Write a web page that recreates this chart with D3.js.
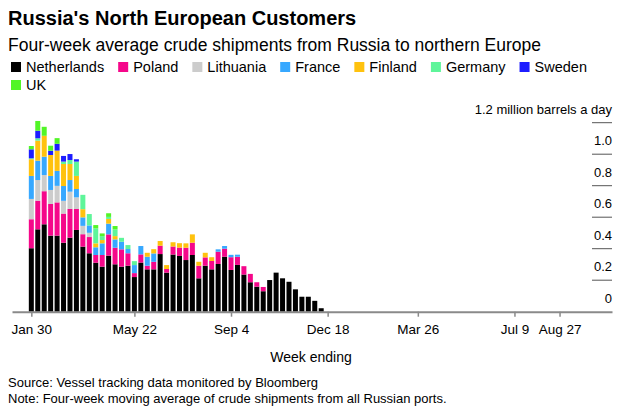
<!DOCTYPE html>
<html><head><meta charset="utf-8">
<script src="https://cdn.jsdelivr.net/npm/d3@7"></script>
<style>
body{margin:0;background:#fff;}
svg text{font-family:"Liberation Sans",Arial,Helvetica,sans-serif;fill:#000;}
</style></head><body>
<svg id="c" width="631" height="411"></svg>
<script>
const weeks = ["2022-01-30","2022-02-06","2022-02-13","2022-02-20","2022-02-27","2022-03-06","2022-03-13","2022-03-20","2022-03-27","2022-04-03","2022-04-10","2022-04-17","2022-04-24","2022-05-01","2022-05-08","2022-05-15","2022-05-22","2022-05-29","2022-06-05","2022-06-12","2022-06-19","2022-06-26","2022-07-03","2022-07-10","2022-07-17","2022-07-24","2022-07-31","2022-08-07","2022-08-14","2022-08-21","2022-08-28","2022-09-04","2022-09-11","2022-09-18","2022-09-25","2022-10-02","2022-10-09","2022-10-16","2022-10-23","2022-10-30","2022-11-06","2022-11-13","2022-11-20","2022-11-27","2022-12-04","2022-12-11"];

const seriesNames = ["Netherlands","Poland","Lithuania","France","Finland","Germany","Sweden","UK"];
const seriesColors = ["#000000","#f5078a","#cccccc","#37a8ff","#ffc20e","#5ef59a","#1d1dff","#52f527"];

const netherlands = [0.403,0.523,0.555,0.483,0.483,0.438,0.470,0.519,0.413,0.371,0.311,0.286,0.356,0.301,0.286,0.292,0.220,0.312,0.269,0.269,0.366,0.248,0.363,0.354,0.328,0.360,0.212,0.292,0.269,0.303,0.349,0.265,0.297,0.236,0.187,0.159,0.130,0.201,0.248,0.212,0.190,0.142,0.095,0.095,0.069,0.022];
const poland = [0.184,0.182,0.210,0.201,0.211,0.185,0.183,0.133,0.079,0.103,0.049,0.074,0.135,0.105,0.110,0.079,0.025,0.052,0.023,0.048,0.053,0.023,0.051,0.053,0.078,0.078,0.080,0.053,0.053,0.078,0.051,0.081,0.052,0.053,0.053,0.028,0.027,0,0,0,0,0,0,0,0,0];
const lithuania = [0.129,0.131,0.103,0.089,0.105,0.081,0.109,0.074,0.053,0.027,0,0,0,0,0,0,0,0,0,0,0,0,0,0,0,0,0,0,0,0,0,0,0,0,0,0,0,0,0,0,0,0,0,0,0,0];
const france = [0.146,0.123,0.116,0.089,0.095,0.094,0.074,0.053,0.054,0.047,0.049,0.074,0.068,0.053,0.048,0.027,0.051,0.053,0.057,0.053,0,0,0,0,0,0,0,0,0,0.015,0.017,0.015,0.013,0,0,0,0,0,0,0,0,0,0,0,0,0];
const finland = [0.106,0.127,0.133,0.133,0.129,0.140,0.102,0.083,0.052,0,0.025,0.021,0.030,0.021,0,0,0,0,0.025,0.027,0.030,0.025,0.027,0.028,0.028,0.053,0.025,0.029,0.024,0,0,0,0,0,0,0,0,0,0,0,0,0,0,0,0,0];
const germany = [0.006,0.015,0,0,0,0.015,0.025,0.091,0.091,0.072,0.095,0.025,0.013,0.043,0.025,0.025,0.025,0,0,0,0,0,0,0,0,0,0,0,0,0,0,0,0,0,0,0,0,0,0,0,0,0,0,0,0,0];
const sweden = [0.057,0.048,0,0.027,0.043,0.036,0.038,0.015,0,0,0,0,0,0,0,0,0,0,0,0,0,0,0,0,0,0,0,0,0,0,0,0,0,0,0,0,0,0,0,0,0,0,0,0,0,0];
const uk = [0.021,0.062,0.057,0.032,0.036,0,0,0,0,0,0.021,0.017,0.023,0.021,0,0,0,0,0,0,0,0,0,0,0,0,0,0,0,0,0,0,0,0,0,0,0,0,0,0,0,0,0,0,0,0];

const xTickDates = ["2022-01-30","2022-05-22","2022-09-04","2022-12-18","2023-03-26","2023-07-09","2023-08-27"];
const yTicks = [0,0.2,0.4,0.6,0.8,1.0,1.2];
const yTickLabels = ["0","0.2","0.4","0.6","0.8","1.0","1.2 million barrels a day"];

const seriesValues = [netherlands,poland,lithuania,france,finland,germany,sweden,uk];
const parse = d3.utcParse("%Y-%m-%d");
const table = weeks.map((w,i)=>{
  const row = {date: parse(w)};
  seriesNames.forEach((n,j)=>row[n]=seriesValues[j][i]);
  return row;
});

const svg = d3.select("#c");
const x = d3.scaleUtc().domain([parse("2022-01-09"), parse("2023-10-23")]).range([12, 612]);
const y = d3.scaleLinear().domain([0,1.2]).range([311.7,122.7]);
const color = d3.scaleOrdinal().domain(seriesNames).range(seriesColors);

// titles
svg.append("text").attr("x",8).attr("y",25).attr("font-size",20).attr("font-weight","bold").text("Russia's North European Customers");
svg.append("text").attr("x",8).attr("y",51).attr("font-size",17.5).text("Four-week average crude shipments from Russia to northern Europe");

// legend
const lg = svg.append("g");
let lx = 11, ly = 72;
seriesNames.forEach(n=>{
  const g = lg.append("g");
  const t = g.append("text").attr("font-size",14.5).text(n);
  const w = t.node().getComputedTextLength();
  if (lx + 15 + w > 600) { lx = 11; ly += 18; }
  g.append("rect").attr("x",lx).attr("y",ly-10).attr("width",10).attr("height",10).attr("fill",color(n));
  t.attr("x",lx+15).attr("y",ly);
  lx += 15 + w + 14;
});

// y ticks
const yg = svg.append("g");
yTicks.forEach((v,i)=>{
  if (v>0) yg.append("line").attr("x1",592).attr("x2",612).attr("y1",y(v)).attr("y2",y(v)).attr("stroke","#555").attr("stroke-width",1);
  yg.append("text").attr("x",612).attr("y",y(v)-9).attr("text-anchor","end").attr("font-size",13).text(yTickLabels[i]);
});

// bars
const stack = d3.stack().keys(seriesNames)(table);
const bw = 5;
svg.append("g").selectAll("g").data(stack).join("g").attr("fill",d=>color(d.key))
  .selectAll("rect").data(d=>d).join("rect")
  .attr("x",d=>x(d.data.date)-bw/2).attr("width",bw)
  .attr("y",d=>y(d[1])).attr("height",d=>Math.max(0,y(d[0])-y(d[1])));

// x axis
const xa = d3.axisBottom(x).tickValues(xTickDates.map(parse)).tickFormat(d3.utcFormat("%b %-d")).tickSize(5).tickSizeOuter(0);
const xg = svg.append("g").attr("transform","translate(0,311.7)").call(xa);
xg.select(".domain").attr("stroke","#8a8a8a").attr("stroke-width",2);
xg.selectAll(".tick line").attr("stroke","#8a8a8a").attr("stroke-width",1.5);
xg.selectAll(".tick text").attr("font-size",13.5).attr("fill","#000").attr("dy",0).attr("y",22)
  .attr("font-family",'"Liberation Sans",Arial,sans-serif');

svg.append("text").attr("x",311).attr("y",362).attr("text-anchor","middle").attr("font-size",14).text("Week ending");
svg.append("text").attr("x",8).attr("y",387).attr("font-size",13).text("Source: Vessel tracking data monitored by Bloomberg");
svg.append("text").attr("x",8).attr("y",403).attr("font-size",13).text("Note: Four-week moving average of crude shipments from all Russian ports.");
</script>
</body></html>
